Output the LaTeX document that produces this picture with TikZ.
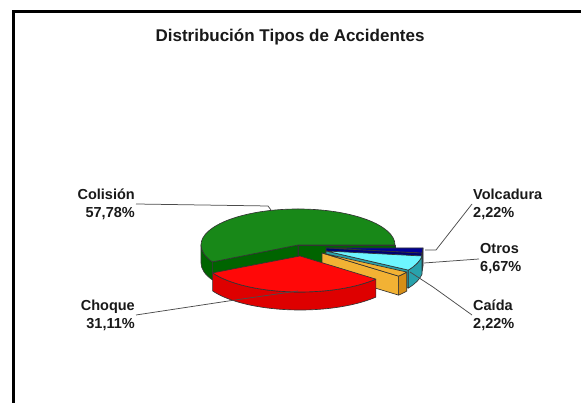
\documentclass[tikz,border=0pt]{standalone}
\usepackage{fontspec}
\setmainfont{Liberation Sans}

\definecolor{colTop}{RGB}{24,136,24}
\definecolor{colSide}{RGB}{0,100,0}
\definecolor{choTop}{RGB}{255,8,8}
\definecolor{choSide}{RGB}{222,0,0}
\definecolor{caiTop}{RGB}{242,178,52}
\definecolor{caiSide}{RGB}{214,142,22}
\definecolor{otrTop}{RGB}{110,246,255}
\definecolor{otrSide}{RGB}{40,162,172}
\definecolor{volTop}{RGB}{0,0,150}
\definecolor{volSide}{RGB}{0,0,112}

\tikzset{
  rimline/.style={draw=black!80, line width=0.65pt, line join=round},
  pielabel/.style={font=\bfseries\fontsize{14.5}{18}\selectfont, text=black!90, inner sep=1pt},
  leader/.style={draw=black!70, line width=0.75pt},
}

\begin{document}
\begin{tikzpicture}[x=1pt,y=1pt]
  \useasboundingbox (0,0) rectangle (581,403);
  % frame
  \draw[line width=3pt] (13.5,-5) -- (13.5,391.5) -- (590,391.5);
  \node[font=\bfseries\fontsize{17}{20}\selectfont, text=black!90] (title) at (290,366) {Distribución Tipos de Accidentes};

  % Colision
  \begin{scope}[shift={(298,158)}]
    \filldraw[rimline, fill=colSide] (0,0) -- (0:97pt and 36pt) -- ++(0,-18) -- (0,-18) -- cycle;
    \filldraw[rimline, fill=colSide] (0,0) -- (208:97pt and 36pt) -- ++(0,-18) -- (0,-18) -- cycle;
    \filldraw[rimline, fill=colSide] (180:97pt and 36pt) arc[start angle=180, end angle=208, x radius=97pt, y radius=36pt] -- ++(0,-18) arc[start angle=208, end angle=180, x radius=97pt, y radius=36pt] -- cycle;
    \filldraw[rimline, fill=colTop] (0,0) -- (0:97pt and 36pt) arc[start angle=0, end angle=208, x radius=97pt, y radius=36pt] -- cycle;
  \end{scope}

  % Volcadura
  \begin{scope}[shift={(326,155)}]
    \filldraw[rimline, fill=volSide] (0,0) -- (352:97pt and 36pt) -- ++(0,-18) -- (0,-18) -- cycle;
    \filldraw[rimline, fill=volSide] (352:97pt and 36pt) arc[start angle=352, end angle=360, x radius=97pt, y radius=36pt] -- ++(0,-18) arc[start angle=360, end angle=352, x radius=97pt, y radius=36pt] -- cycle;
    \filldraw[rimline, fill=volTop] (0,0) -- (352:97pt and 36pt) arc[start angle=352, end angle=360, x radius=97pt, y radius=36pt] -- cycle;
  \end{scope}

  % Otros
  \begin{scope}[shift={(326,152)}]
    \filldraw[rimline, fill=otrSide] (0,0) -- (328:97pt and 36pt) -- ++(0,-18) -- (0,-18) -- cycle;
    \filldraw[rimline, fill=otrSide] (328:97pt and 36pt) arc[start angle=328, end angle=352, x radius=97pt, y radius=36pt] -- ++(0,-18) arc[start angle=352, end angle=328, x radius=97pt, y radius=36pt] -- cycle;
    \filldraw[rimline, fill=otrTop] (0,0) -- (328:97pt and 36pt) arc[start angle=328, end angle=352, x radius=97pt, y radius=36pt] -- cycle;
  \end{scope}

  % Caida
  \begin{scope}[shift={(322,150)}]
    \filldraw[rimline, fill=caiTop] (0,0) -- (320:100pt and 36pt) -- ++(0,-19) -- (0,-19) -- cycle;
    \filldraw[rimline, fill=caiSide] (320:100pt and 36pt) arc[start angle=320, end angle=328, x radius=100pt, y radius=36pt] -- ++(0,-19) arc[start angle=328, end angle=320, x radius=100pt, y radius=36pt] -- cycle;
    \filldraw[rimline, fill=caiTop] (0,0) -- (320:100pt and 36pt) arc[start angle=320, end angle=328, x radius=100pt, y radius=36pt] -- cycle;
  \end{scope}

  % Choque
  \begin{scope}[shift={(300,147)}]
    \filldraw[rimline, fill=choSide] (208:99pt and 36pt) arc[start angle=208, end angle=320, x radius=99pt, y radius=36pt] -- ++(0,-18) arc[start angle=320, end angle=208, x radius=99pt, y radius=36pt] -- cycle;
    \filldraw[rimline, fill=choTop] (0,0) -- (208:99pt and 36pt) arc[start angle=208, end angle=320, x radius=99pt, y radius=36pt] -- cycle;
  \end{scope}

  % labels
  \node[pielabel, anchor=east, align=right] (colision) at (136,199) {Colisión\\57,78\%};
  \node[pielabel, anchor=east, align=right] (choque) at (136,88) {Choque\\31,11\%};
  \node[pielabel, anchor=west, align=left] (volcadura) at (472,199) {Volcadura\\2,22\%};
  \node[pielabel, anchor=west, align=left] (otros) at (479,144) {Otros\\6,67\%};
  \node[pielabel, anchor=west, align=left] (caida) at (472,88) {Caída\\2,22\%};

  \coordinate (colEnd) at (271,193);
  \coordinate (choEnd) at (298,112);
  \coordinate (volEnd) at (425,153);
  \coordinate (otrEnd) at (424,140);
  \coordinate (caiEnd) at (410,131);

  \draw[leader] (colision.east) -- (268,197) -- (colEnd);
  \draw[leader] (choque.east) -- (235,103) -- (choEnd);
  \draw[leader] (volcadura.west) -- (436,153) -- (volEnd);
  \draw[leader] (otros.west) -- (otrEnd);
  \draw[leader] (caida.west) -- (433,116) -- (caiEnd);
\end{tikzpicture}
\end{document}
